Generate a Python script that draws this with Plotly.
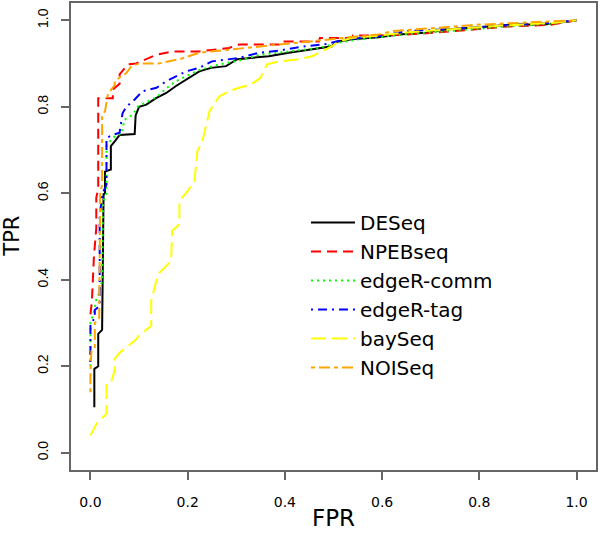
import plotly.graph_objects as go

# ROC curves (FPR on x, TPR on y)
deseq_fpr = [0.008, 0.008, 0.016, 0.016, 0.024, 0.027, 0.030, 0.030, 0.042, 0.042, 0.050, 0.060, 0.091, 0.093, 0.100,
             0.115, 0.135, 0.156, 0.176, 0.197, 0.224, 0.248, 0.279, 0.302, 0.340, 0.367, 0.408, 0.456, 0.497, 0.504,
             0.537, 0.593, 0.634, 0.689, 0.730, 0.798, 0.866, 0.935, 1.0]
deseq_tpr = [0.105, 0.194, 0.200, 0.275, 0.284, 0.598, 0.600, 0.650, 0.655, 0.709, 0.720, 0.735, 0.737, 0.780, 0.800,
             0.805, 0.820, 0.832, 0.848, 0.863, 0.882, 0.890, 0.894, 0.910, 0.915, 0.917, 0.925, 0.933, 0.940, 0.950,
             0.956, 0.961, 0.967, 0.971, 0.979, 0.984, 0.990, 0.990, 1.0]

npeb_fpr = [0.0, 0.003, 0.007, 0.012, 0.012, 0.016, 0.016, 0.046, 0.046, 0.060, 0.060, 0.077, 0.094, 0.115, 0.135,
            0.169, 0.224, 0.285, 0.306, 0.388, 0.390, 0.470, 0.472, 0.538, 0.540, 0.593, 0.650, 0.750, 0.850, 0.950, 1.0]
npeb_tpr = [0.32, 0.35, 0.45, 0.52, 0.59, 0.61, 0.82, 0.82, 0.84, 0.853, 0.875, 0.898, 0.900, 0.910, 0.920,
            0.928, 0.928, 0.936, 0.944, 0.944, 0.951, 0.951, 0.959, 0.959, 0.965, 0.965, 0.967, 0.975, 0.985, 0.990, 1.0]

comm_fpr = [0.0, 0.0, 0.008, 0.013, 0.019, 0.024, 0.026, 0.033, 0.033, 0.040, 0.053, 0.064, 0.070, 0.087, 0.097,
            0.122, 0.138, 0.156, 0.176, 0.197, 0.224, 0.265, 0.306, 0.347, 0.408, 0.470, 0.510, 0.552, 0.593, 0.65,
            0.75, 0.85, 0.95, 1.0]
comm_tpr = [0.20, 0.30, 0.33, 0.36, 0.37, 0.40, 0.58, 0.60, 0.71, 0.72, 0.735, 0.737, 0.77, 0.782, 0.80,
            0.814, 0.824, 0.843, 0.859, 0.871, 0.885, 0.898, 0.907, 0.92, 0.928, 0.936, 0.948, 0.956, 0.961, 0.968,
            0.976, 0.985, 0.992, 1.0]

tag_fpr = [0.0, 0.0, 0.009, 0.009, 0.019, 0.019, 0.025, 0.033, 0.033, 0.046, 0.060, 0.066, 0.074, 0.091, 0.107,
           0.136, 0.156, 0.176, 0.197, 0.224, 0.250, 0.306, 0.347, 0.388, 0.429, 0.484, 0.525, 0.593, 0.65, 0.75,
           0.85, 0.95, 1.0]
tag_tpr = [0.21, 0.30, 0.31, 0.33, 0.34, 0.55, 0.60, 0.62, 0.728, 0.735, 0.74, 0.785, 0.80, 0.817, 0.836,
           0.844, 0.859, 0.871, 0.882, 0.89, 0.905, 0.913, 0.925, 0.93, 0.938, 0.945, 0.956, 0.963, 0.975, 0.98,
           0.988, 0.994, 1.0]

bay_fpr = [0.0, 0.009, 0.013, 0.022, 0.033, 0.033, 0.043, 0.050, 0.050, 0.060, 0.091, 0.104, 0.125, 0.125, 0.139,
           0.166, 0.168, 0.183, 0.183, 0.200, 0.214, 0.220, 0.230, 0.245, 0.265, 0.285, 0.306, 0.330, 0.350, 0.363,
           0.388, 0.430, 0.456, 0.476, 0.497, 0.510, 0.538, 0.579, 0.65, 0.75, 0.85, 0.95, 1.0]
bay_tpr = [0.04, 0.058, 0.068, 0.078, 0.09, 0.16, 0.166, 0.19, 0.217, 0.231, 0.259, 0.275, 0.293, 0.351, 0.413,
           0.443, 0.513, 0.528, 0.582, 0.605, 0.628, 0.697, 0.72, 0.79, 0.824, 0.836, 0.844, 0.851, 0.867, 0.898,
           0.905, 0.91, 0.917, 0.928, 0.94, 0.951, 0.959, 0.963, 0.972, 0.98, 0.988, 0.994, 1.0]

noi_fpr = [0.0, 0.0, 0.002, 0.009, 0.009, 0.018, 0.020, 0.024, 0.024, 0.030, 0.036, 0.050, 0.050, 0.066, 0.074,
           0.084, 0.100, 0.140, 0.183, 0.224, 0.265, 0.326, 0.388, 0.443, 0.505, 0.552, 0.593, 0.62, 0.80, 0.90, 1.0]
noi_tpr = [0.14, 0.19, 0.235, 0.24, 0.30, 0.31, 0.60, 0.62, 0.778, 0.79, 0.83, 0.85, 0.86, 0.871, 0.878,
           0.894, 0.90, 0.90, 0.91, 0.925, 0.93, 0.936, 0.944, 0.95, 0.958, 0.963, 0.967, 0.975, 0.99, 0.995, 1.0]

methods = ['DESeq', 'NPEBseq', 'edgeR-comm', 'edgeR-tag', 'baySeq', 'NOISeq']
xs = [deseq_fpr, npeb_fpr, comm_fpr, tag_fpr, bay_fpr, noi_fpr]
ys = [deseq_tpr, npeb_tpr, comm_tpr, tag_tpr, bay_tpr, noi_tpr]

# R style colours / line types (solid, dashed, dotted, dotdash, longdash, twodash)
line_colors = ['black', '#FF0000', '#00FF00', '#0000FF', '#FFFF00', '#FFA500']
line_dashes = ['solid', '10px,6px', '2px,4px', '2px,5px,9px,5px', '15px,6px', '4px,4px,11px,4px']

# the original text looks wide, DejaVu is the closest for horizontal text
wide_font = 'DejaVu Sans, sans-serif'
narrow_font = 'Liberation Sans, Arial, sans-serif'

fig = go.Figure()
for i in range(len(methods)):
    fig.add_trace(go.Scatter(
        x=xs[i], y=ys[i], mode='lines', name=methods[i],
        legendgroup=methods[i],
        line=dict(color=line_colors[i], width=2, dash=line_dashes[i]),
    ))

axis_style = dict(
    showline=True, linecolor='#666666', linewidth=1.5, mirror=True,
    showgrid=False, zeroline=False, automargin=False,
    ticks='outside', ticklen=8, tickwidth=1.5, tickcolor='#666666',
    tickvals=[0, 0.2, 0.4, 0.6, 0.8, 1.0], ticktext=['0.0', '0.2', '0.4', '0.6', '0.8', '1.0'],
    range=[-0.04, 1.04],
)

fig.update_layout(
    width=600, height=539,
    margin=dict(l=71, r=4, t=3, b=69, autoexpand=False),
    plot_bgcolor='white', paper_bgcolor='white',
    showlegend=True,
    legend=dict(
        x=0.4476, y=0.572, xanchor='left', yanchor='top',
        font=dict(family=wide_font, size=20, color='black'),
        bgcolor='rgba(0,0,0,0)', tracegroupgap=0, itemwidth=44,
    ),
    xaxis=dict(axis_style, ticklabelstandoff=10,
               tickfont=dict(family=wide_font, size=14, color='black')),
    yaxis=dict(axis_style, tickangle=-90, ticklabelstandoff=8,
               tickfont=dict(family=narrow_font, size=14, color='black')),
)

# axis titles
fig.add_annotation(text='FPR', x=0.5, y=-0.103, xref='paper', yref='paper', showarrow=False,
                   xanchor='center', yanchor='middle', font=dict(family=wide_font, size=23, color='black'))
fig.add_annotation(text='TPR', x=-0.114, y=0.5, xref='paper', yref='paper', showarrow=False, textangle=-90,
                   xanchor='center', yanchor='middle', font=dict(family=wide_font, size=21, color='black'))

# drop the default 8px page margin so the figure sits at the window corner
fig.write_html("out.html", config={'displayModeBar': False},
               post_script="document.body.style.margin='0px';")
